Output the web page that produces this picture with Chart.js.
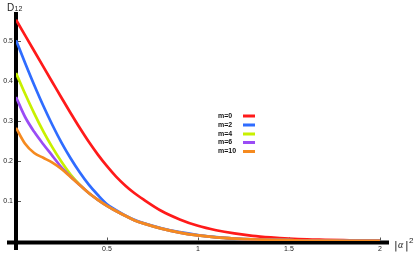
<!DOCTYPE html>
<html>
<head>
<meta charset="utf-8">
<script src="https://cdn.jsdelivr.net/npm/chart.js@4"></script>
<style>
  html, body { margin: 0; padding: 0; background: #fff; }
  #wrap { position: relative; width: 416px; height: 264px; }
</style>
</head>
<body>
<div id="wrap"><canvas id="graph" width="416" height="264"></canvas></div>
<script>
// |alpha|^2 sample points
const xValues = [0, 0.05, 0.1, 0.15, 0.2, 0.25, 0.3, 0.35, 0.4, 0.45, 0.5, 0.55, 0.6, 0.65, 0.7,
                 0.8, 0.9, 1.0, 1.1, 1.2, 1.3, 1.4, 1.5, 1.6, 1.7, 1.8, 1.9, 2.0];

// D12 for each m
const m0  = [0.553, 0.514, 0.475, 0.436, 0.397, 0.358, 0.32, 0.283, 0.248, 0.216, 0.187, 0.161, 0.139, 0.12, 0.104,
             0.075, 0.054, 0.038, 0.027, 0.019, 0.013, 0.009, 0.006, 0.004, 0.003, 0.002, 0.001, 0.001];
const m2  = [0.502, 0.445, 0.39, 0.338, 0.29, 0.246, 0.207, 0.172, 0.141, 0.115, 0.092, 0.077, 0.064, 0.053, 0.045,
             0.032, 0.022, 0.015, 0.01, 0.006, 0.004, 0.003, 0.002, 0.001, 0.001, 0.0005, 0.0005, 0.0003];
const m4  = [0.42, 0.368, 0.319, 0.274, 0.234, 0.198, 0.166, 0.141, 0.12, 0.103, 0.088, 0.075, 0.063, 0.052, 0.044,
             0.031, 0.021, 0.014, 0.009, 0.006, 0.004, 0.003, 0.002, 0.001, 0.001, 0.0005, 0.0005, 0.0003];
const m6  = [0.36, 0.31, 0.273, 0.242, 0.213, 0.184, 0.161, 0.14, 0.12, 0.103, 0.088, 0.075, 0.063, 0.052, 0.044,
             0.031, 0.021, 0.014, 0.009, 0.006, 0.004, 0.003, 0.002, 0.001, 0.001, 0.0005, 0.0005, 0.0003];
const m10 = [0.283, 0.243, 0.22, 0.208, 0.196, 0.18, 0.16, 0.14, 0.12, 0.103, 0.088, 0.075, 0.063, 0.052, 0.044,
             0.031, 0.021, 0.014, 0.009, 0.006, 0.004, 0.003, 0.002, 0.001, 0.001, 0.0005, 0.0005, 0.0003];

const seriesLabels = ["m=0", "m=2", "m=4", "m=6", "m=10"];
const seriesColors = ["#ff1a1a", "#2f6cff", "#c8f000", "#9a4cf5", "#f58a1f"];
const xTicks = [0.5, 1, 1.5, 2];
const yTicks = [0.1, 0.2, 0.3, 0.4, 0.5];

const graphCanvas = document.getElementById("graph");
const graphContext = graphCanvas.getContext("2d");

function toPoints(ys) {
    return xValues.map((x, i) => ({ x: x, y: ys[i] }));
}

// thick axes through the origin, small tick marks, axis titles and the legend
const axesPlugin = {
    id: "axesPlugin",
    beforeDatasetsDraw(chart) {
        const ctx = chart.ctx;
        const xs = chart.scales.x;
        const ys = chart.scales.y;
        const x0 = xs.getPixelForValue(0);
        const y0 = ys.getPixelForValue(0);
        ctx.save();
        ctx.fillStyle = "#000";
        ctx.fillRect(x0 - 2, chart.chartArea.top, 4, y0 + 9 - chart.chartArea.top);
        ctx.fillRect(x0 - 9, y0 - 0.5, chart.chartArea.right - x0 + 9, 4);

        ctx.strokeStyle = "#555";
        ctx.lineWidth = 1;
        yTicks.forEach(v => {
            const py = Math.round(ys.getPixelForValue(v)) + 0.5;
            ctx.beginPath();
            ctx.moveTo(x0 + 2, py);
            ctx.lineTo(x0 + 5, py);
            ctx.stroke();
        });
        xTicks.forEach(v => {
            const px = Math.round(xs.getPixelForValue(v)) + 0.5;
            ctx.beginPath();
            ctx.moveTo(px, y0 - 0.5);
            ctx.lineTo(px, y0 - 3.5);
            ctx.stroke();
        });
        ctx.restore();
    },
    afterDraw(chart) {
        const ctx = chart.ctx;
        ctx.save();
        ctx.fillStyle = "#222";
        ctx.textBaseline = "alphabetic";
        ctx.textAlign = "left";
        // y title
        ctx.font = "10px 'Liberation Sans', Arial, sans-serif";
        ctx.fillText("D", 7, 11);
        ctx.font = "7px 'Liberation Sans', Arial, sans-serif";
        ctx.fillText("12", 14.5, 11);
        // x title
        ctx.font = "11px 'DejaVu Sans', sans-serif";
        ctx.fillText("|", 394, 249);
        ctx.font = "italic 10px 'Liberation Serif', serif";
        ctx.fillText("α", 398, 248);
        ctx.font = "11px 'DejaVu Sans', sans-serif";
        ctx.fillText("|", 405, 249);
        ctx.font = "8px 'Liberation Sans', Arial, sans-serif";
        ctx.fillText("2", 409, 243);

        // legend
        const rows = [116, 125, 134, 142.5, 151.5];
        ctx.font = "bold 7px 'Liberation Sans', Arial, sans-serif";
        ctx.textBaseline = "middle";
        seriesLabels.forEach((lab, i) => {
            ctx.fillStyle = "#111";
            ctx.fillText(lab, 218, rows[i]);
            ctx.fillStyle = seriesColors[i];
            ctx.fillRect(243, rows[i] - 1.5, 12, 3);
        });
        ctx.restore();
    }
};

const datasets = [m0, m2, m4, m6, m10].map((ys, i) => ({
    label: seriesLabels[i],
    data: toPoints(ys),
    borderColor: seriesColors[i],
    backgroundColor: seriesColors[i],
    borderWidth: 2.7,
    pointRadius: 0,
    cubicInterpolationMode: "monotone",
    order: 4 - i, // orange drawn last, on top
}));

new Chart(graphContext, {
    type: "line",
    data: { datasets: datasets },
    options: {
        responsive: false,
        animation: false,
        devicePixelRatio: 1,
        layout: { padding: { top: 12, right: 27, left: 0, bottom: 0 } },
        plugins: {
            legend: { display: false },
            tooltip: { enabled: false },
        },
        scales: {
            x: {
                type: "linear",
                position: "bottom",
                min: 0,
                max: 2.05,
                grid: { display: false, drawTicks: false },
                border: { display: false },
                afterBuildTicks: s => { s.ticks = xTicks.map(v => ({ value: v })); },
                afterFit: s => { s.height = 23; },
                ticks: {
                    padding: 4,
                    maxRotation: 0,
                    color: "#222",
                    font: { family: "'Liberation Sans', Arial, sans-serif", size: 7 },
                    callback: v => String(v),
                },
            },
            y: {
                type: "linear",
                position: "left",
                min: 0,
                max: 0.5725,
                grid: { display: false, drawTicks: false },
                border: { display: false },
                afterBuildTicks: s => { s.ticks = yTicks.map(v => ({ value: v })); },
                afterFit: s => { s.width = 16; },
                ticks: {
                    padding: 3,
                    color: "#222",
                    font: { family: "'Liberation Sans', Arial, sans-serif", size: 7 },
                    callback: v => String(v),
                },
            },
        },
    },
    plugins: [axesPlugin],
});
</script>
</body>
</html>
